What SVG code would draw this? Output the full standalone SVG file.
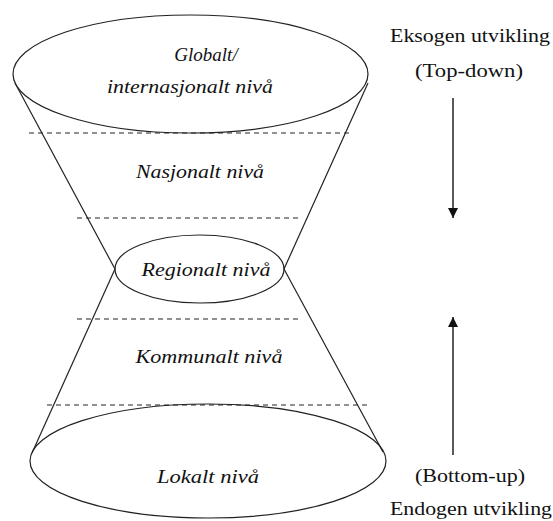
<svg xmlns="http://www.w3.org/2000/svg" width="553" height="521" viewBox="0 0 553 521">
<style>
.shape{fill:none;stroke:#222;stroke-width:1.2}
.dash{fill:none;stroke:#222;stroke-width:1;stroke-dasharray:5,4}
.lvl{font-family:"Liberation Serif",serif;font-style:italic;font-size:19px;fill:#111;text-anchor:middle}
.side{font-family:"Liberation Serif",serif;font-size:19px;fill:#111;text-anchor:middle}
.arr{stroke:#222;stroke-width:1.5;fill:none}
</style>
<defs>
<marker id="ah" viewBox="0 0 10 10" refX="10" refY="5" markerWidth="10" markerHeight="10" markerUnits="userSpaceOnUse" orient="auto">
<path d="M0,0 L10,5 L0,10 Z" fill="#111"/>
</marker>
</defs>
<rect width="553" height="521" fill="#fff"/>
<g id="connectors">
<line class="shape" x1="15" y1="83" x2="115" y2="269"/>
<line class="shape" x1="368" y1="83" x2="284" y2="269"/>
<line class="shape" x1="115" y1="269" x2="32" y2="453"/>
<line class="shape" x1="284" y1="269" x2="383" y2="452"/>
<line class="dash" x1="29" y1="133" x2="350" y2="133"/>
<line class="dash" x1="77" y1="218" x2="302" y2="218"/>
<line class="dash" x1="77" y1="319" x2="302" y2="319"/>
<line class="dash" x1="47" y1="405" x2="368" y2="405"/>
<line class="arr" x1="453" y1="98" x2="453" y2="218" marker-end="url(#ah)"/>
<line class="arr" x1="453" y1="455" x2="453" y2="317" marker-end="url(#ah)"/>
</g>
<g id="globalt">
<ellipse class="shape" cx="190.5" cy="74" rx="177.5" ry="59"/>
<text class="lvl" x="206" y="61">Globalt/</text>
<text class="lvl" x="190" y="93" textLength="166" lengthAdjust="spacingAndGlyphs">internasjonalt nivå</text>
</g>
<g id="nasjonalt">
<text class="lvl" x="200" y="178" textLength="128" lengthAdjust="spacingAndGlyphs">Nasjonalt nivå</text>
</g>
<g id="regionalt">
<ellipse class="shape" cx="199.5" cy="269" rx="84.5" ry="34"/>
<text class="lvl" x="206" y="276" textLength="129" lengthAdjust="spacingAndGlyphs">Regionalt nivå</text>
</g>
<g id="kommunalt">
<text class="lvl" x="209" y="363" textLength="147" lengthAdjust="spacingAndGlyphs">Kommunalt nivå</text>
</g>
<g id="lokalt">
<ellipse class="shape" cx="208" cy="461" rx="178" ry="57"/>
<text class="lvl" x="208" y="483" textLength="102" lengthAdjust="spacingAndGlyphs">Lokalt nivå</text>
</g>
<g id="eksogen">
<text class="side" x="470" y="42" textLength="160" lengthAdjust="spacingAndGlyphs">Eksogen utvikling</text>
<text class="side" x="469" y="77" textLength="108" lengthAdjust="spacingAndGlyphs">(Top-down)</text>
</g>
<g id="endogen">
<text class="side" x="470" y="482" textLength="110" lengthAdjust="spacingAndGlyphs">(Bottom-up)</text>
<text class="side" x="471" y="515" textLength="162" lengthAdjust="spacingAndGlyphs">Endogen utvikling</text>
</g>
</svg>
